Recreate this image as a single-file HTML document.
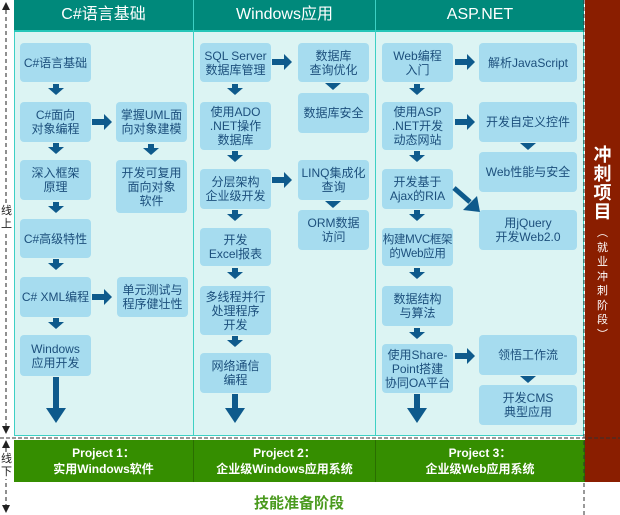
<!DOCTYPE html>
<html><head><meta charset="utf-8"><style>
body{margin:0;width:620px;height:515px;background:#fff;position:relative;overflow:hidden;font-family:"Liberation Sans","Noto Sans CJK SC",sans-serif}
.a{position:absolute}
.hd{position:absolute;top:0;height:30px;background:#00897b;color:#fff;font-size:16px;line-height:30px;text-align:center;border-bottom:2px solid #26c6b8}
.b{position:absolute;background:#a6dcef;border-radius:4px;color:#1c4f7c;font-size:12px;line-height:14px;display:flex;align-items:center;justify-content:center;text-align:center;white-space:nowrap}
.g{position:absolute;top:440px;height:42px;background:#358e00;color:#fff;font-size:12px;font-weight:bold;line-height:16px;text-align:center;display:flex;align-items:center;justify-content:center;border-right:1px solid #2a6e00}
</style></head><body>
<div class="a" style="left:14px;top:0;width:570px;height:436px;background:#dcf4f3;border:1px solid #3dd0c4;box-sizing:border-box"></div>
<div class="a" style="left:193px;top:0;width:1px;height:436px;background:#3dd0c4"></div>
<div class="a" style="left:375px;top:0;width:1px;height:436px;background:#3dd0c4"></div>
<div class="hd" style="left:14px;width:179px">C#语言基础</div>
<div class="hd" style="left:194px;width:181px">Windows应用</div>
<div class="hd" style="left:376px;width:208px">ASP.NET</div>
<div class="a" style="left:585px;top:0;width:35px;height:482px;background:#8a1e00"></div>
<div class="a" style="left:585px;top:146px;width:35px;color:#fff;font-size:18px;font-weight:bold;line-height:19px;text-align:center">冲<br>刺<br>项<br>目</div>
<div class="a" style="left:585px;top:226px;width:35px;color:#fff;font-size:11px;line-height:14.5px;text-align:center">︵<br>就<br>业<br>冲<br>刺<br>阶<br>段<br>︶</div>
<div class="g" style="left:14px;width:179px">Project 1：<br>实用Windows软件</div>
<div class="g" style="left:194px;width:181px">Project 2：<br>企业级Windows应用系统</div>
<div class="g" style="left:376px;width:208px">Project 3：<br>企业级Web应用系统</div>
<div class="a" style="left:14px;top:492px;width:570px;text-align:center;color:#4a9a1e;font-size:15px;font-weight:bold">技能准备阶段</div>

<div class="b" style="left:20px;top:43px;width:71px;height:39px">C#语言基础</div>
<div class="b" style="left:20px;top:102px;width:71px;height:40px">C#面向<br>对象编程</div>
<div class="b" style="left:116px;top:102px;width:71px;height:40px">掌握UML面<br>向对象建模</div>
<div class="b" style="left:20px;top:160px;width:71px;height:40px">深入框架<br>原理</div>
<div class="b" style="left:116px;top:160px;width:71px;height:53px">开发可复用<br>面向对象<br>软件</div>
<div class="b" style="left:20px;top:219px;width:71px;height:39px">C#高级特性</div>
<div class="b" style="left:20px;top:277px;width:71px;height:40px">C# XML编程</div>
<div class="b" style="left:117px;top:277px;width:71px;height:40px">单元测试与<br>程序健壮性</div>
<div class="b" style="left:20px;top:335px;width:71px;height:41px">Windows<br>应用开发</div>

<div class="b" style="left:200px;top:43px;width:71px;height:39px">SQL Server<br>数据库管理</div>
<div class="b" style="left:298px;top:43px;width:71px;height:39px">数据库<br>查询优化</div>
<div class="b" style="left:298px;top:93px;width:71px;height:40px">数据库安全</div>
<div class="b" style="left:200px;top:102px;width:71px;height:48px">使用ADO<br>.NET操作<br>数据库</div>
<div class="b" style="left:200px;top:169px;width:71px;height:40px">分层架构<br>企业级开发</div>
<div class="b" style="left:298px;top:160px;width:71px;height:40px">LINQ集成化<br>查询</div>
<div class="b" style="left:298px;top:210px;width:71px;height:40px">ORM数据<br>访问</div>
<div class="b" style="left:200px;top:228px;width:71px;height:38px">开发<br>Excel报表</div>
<div class="b" style="left:200px;top:286px;width:71px;height:49px">多线程并行<br>处理程序<br>开发</div>
<div class="b" style="left:200px;top:353px;width:71px;height:40px">网络通信<br>编程</div>

<div class="b" style="left:382px;top:43px;width:71px;height:39px">Web编程<br>入门</div>
<div class="b" style="left:479px;top:43px;width:98px;height:39px">解析JavaScript</div>
<div class="b" style="left:382px;top:102px;width:71px;height:48px">使用ASP<br>.NET开发<br>动态网站</div>
<div class="b" style="left:479px;top:102px;width:98px;height:40px">开发自定义控件</div>
<div class="b" style="left:479px;top:152px;width:98px;height:40px">Web性能与安全</div>
<div class="b" style="left:382px;top:169px;width:71px;height:40px">开发基于<br>Ajax的RIA</div>
<div class="b" style="left:479px;top:210px;width:98px;height:40px">用jQuery<br>开发Web2.0</div>
<div class="b" style="left:382px;top:228px;width:71px;height:38px;font-size:11.5px;letter-spacing:-0.3px">构建MVC框架<br>的Web应用</div>
<div class="b" style="left:382px;top:286px;width:71px;height:40px">数据结构<br>与算法</div>
<div class="b" style="left:382px;top:344px;width:71px;height:49px">使用Share-<br>Point搭建<br>协同OA平台</div>
<div class="b" style="left:479px;top:335px;width:98px;height:40px">领悟工作流</div>
<div class="b" style="left:479px;top:385px;width:98px;height:40px">开发CMS<br>典型应用</div>

<svg class="a" style="left:0;top:0" width="620" height="515">
<defs>
<g id="d"><rect x="-3" y="0" width="6" height="4" fill="#0e5a8c"/><polygon points="-8,4 8,4 0,11" fill="#0e5a8c"/></g>
<g id="r"><rect x="0" y="-3" width="12" height="6" fill="#0e5a8c"/><polygon points="12,-8 12,8 20,0" fill="#0e5a8c"/></g>
<g id="t"><polygon points="-8,0 8,0 0,7" fill="#0e5a8c"/></g>
</defs>
<use href="#d" x="56" y="84"/><use href="#d" x="56" y="143"/><use href="#d" x="56" y="202"/><use href="#d" x="56" y="259"/><use href="#d" x="56" y="318"/>
<use href="#d" x="151" y="144"/>
<use href="#r" x="92" y="122"/><use href="#r" x="92" y="297"/>
<rect x="53" y="377" width="6" height="32" fill="#0e5a8c"/><polygon points="46,408 66,408 56,423" fill="#0e5a8c"/>
<use href="#d" x="235" y="84"/><use href="#d" x="235" y="151"/><use href="#d" x="235" y="210"/><use href="#d" x="235" y="268"/><use href="#d" x="235" y="336"/>
<use href="#r" x="272" y="62"/><use href="#r" x="272" y="180"/>
<use href="#t" x="333" y="83"/><use href="#t" x="333" y="201"/>
<rect x="232" y="394" width="6" height="16" fill="#0e5a8c"/><polygon points="225,408 245,408 235,423" fill="#0e5a8c"/>
<use href="#d" x="417" y="84"/><use href="#d" x="417" y="151"/><use href="#d" x="417" y="210"/><use href="#d" x="417" y="268"/><use href="#d" x="417" y="328"/>
<use href="#r" x="455" y="62"/><use href="#r" x="455" y="122"/><use href="#r" x="455" y="356"/>
<use href="#t" x="528" y="143"/><use href="#t" x="528" y="376"/>
<line x1="454" y1="188" x2="470" y2="202" stroke="#0e5a8c" stroke-width="5"/><polygon points="463,210 477,196 480,212" fill="#0e5a8c"/>
<rect x="414" y="394" width="6" height="16" fill="#0e5a8c"/><polygon points="407,408 427,408 417,423" fill="#0e5a8c"/>
<line x1="6" y1="10" x2="6" y2="430" stroke="#222" stroke-dasharray="4,3"/>
<polygon points="2,10 10,10 6,2" fill="#222"/><polygon points="2,426 10,426 6,434" fill="#222"/>
<line x1="6" y1="448" x2="6" y2="508" stroke="#222" stroke-dasharray="4,3"/>
<polygon points="2,448 10,448 6,440" fill="#222"/><polygon points="2,505 10,505 6,513" fill="#222"/>
<line x1="0" y1="438" x2="620" y2="438" stroke="#333" stroke-dasharray="4,2"/>
<line x1="584" y1="0" x2="584" y2="515" stroke="#333" stroke-dasharray="4,3"/>
</svg>
<div class="a" style="left:0;top:205px;width:13px;background:#fff;font-size:11px;line-height:13px;text-align:center;color:#222">线<br>上</div>
<div class="a" style="left:0;top:453px;width:13px;background:#fff;font-size:11px;line-height:13px;text-align:center;color:#222">线<br>下</div>
</body></html>
